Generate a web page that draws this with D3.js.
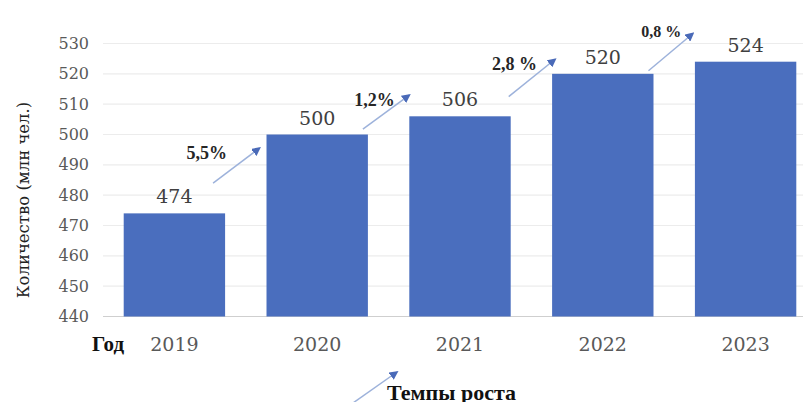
<!DOCTYPE html>
<html>
<head>
<meta charset="utf-8">
<script src="https://cdn.jsdelivr.net/npm/d3@7"></script>
<style>
  body { margin: 0; background: #fff; }
  svg { display: block; }
  svg text { font-family: "Liberation Serif", "Times New Roman", serif; }
  svg text.reg { font-family: "DejaVu Serif", serif; }
</style>
</head>
<body>
<svg id="chart"></svg>
<script>
// data
const years = ["2019", "2020", "2021", "2022", "2023"];
const values = [474, 500, 506, 520, 524];
const growth = ["5,5%", "1,2%", "2,8 %", "0,8 %"];
const yTicks = [440, 450, 460, 470, 480, 490, 500, 510, 520, 530];

// arrow ends in data units (between bar i and i+1)
const arrowFrom = [484, 501.8, 512.5, 521];
const arrowTo = [495.5, 513, 524.8, 533.3];
// growth label position (data units) and shift from gap centre (px)
const labelAt = [491.8, 509.3, 521.3, 532.2];
const labelShift = [-39, -14, -17, -13];

const width = 803, height = 402;
const margin = {left: 103, top: 43.5, bottom: 85.5, right: -14};

const svg = d3.select("#chart").attr("width", width).attr("height", height);

const x = d3.scaleBand()
    .domain(years)
    .range([margin.left, width - margin.right])
    .paddingInner(0.29)
    .paddingOuter(0.145);

const y = d3.scaleLinear()
    .domain([440, 530])
    .range([height - margin.bottom, margin.top]);

// grid
svg.append("g")
    .selectAll("line")
    .data(yTicks)
    .join("line")
    .attr("x1", margin.left)
    .attr("x2", width)
    .attr("y1", d => y(d))
    .attr("y2", d => y(d))
    .attr("stroke", d => d === 440 ? "#cfcfcf" : "#ececec")
    .attr("stroke-width", 1.2);

// y tick labels
svg.append("g")
    .selectAll("text")
    .data(yTicks)
    .join("text")
    .attr("class", "reg")
    .attr("x", 89)
    .attr("y", d => y(d))
    .attr("dy", "0.35em")
    .attr("text-anchor", "end")
    .attr("fill", "#595959")
    .style("font-size", "16px")
    .text(d => d);

// bars
svg.append("g")
    .selectAll("rect")
    .data(values)
    .join("rect")
    .attr("x", (d, i) => x(years[i]))
    .attr("y", d => y(d))
    .attr("width", x.bandwidth())
    .attr("height", d => y(440) - y(d))
    .attr("fill", "#4A6EBE");

// value labels
svg.append("g")
    .selectAll("text")
    .data(values)
    .join("text")
    .attr("class", "reg")
    .attr("x", (d, i) => x(years[i]) + x.bandwidth() / 2)
    .attr("y", d => y(d) - 10)
    .attr("text-anchor", "middle")
    .attr("fill", "#404040")
    .style("font-size", "19px")
    .text(d => d);

// x tick labels
svg.append("g")
    .selectAll("text")
    .data(years)
    .join("text")
    .attr("class", "reg")
    .attr("x", d => x(d) + x.bandwidth() / 2)
    .attr("y", 351)
    .attr("text-anchor", "middle")
    .attr("fill", "#595959")
    .style("font-size", "19px")
    .text(d => d);

svg.append("text")
    .attr("x", 92)
    .attr("y", 351)
    .attr("font-weight", "bold")
    .attr("fill", "#111")
    .style("font-size", "21px")
    .text("Год");

// y axis title
svg.append("text")
    .attr("class", "reg")
    .attr("transform", `translate(29,${(y(440) + y(530)) / 2 + 20}) rotate(-90)`)
    .attr("text-anchor", "middle")
    .attr("fill", "#222")
    .style("font-size", "16.5px")
    .text("Количество (млн чел.)");

// arrow marker
svg.append("defs").append("marker")
    .attr("id", "head")
    .attr("viewBox", "0 0 10 10")
    .attr("refX", 8)
    .attr("refY", 5)
    .attr("markerWidth", 6)
    .attr("markerHeight", 6)
    .attr("markerUnits", "strokeWidth")
    .attr("orient", "auto")
    .append("path")
    .attr("d", "M0,0 L10,5 L0,10 z")
    .attr("fill", "#4A6AB8");

const gaps = growth.map((g, i) => ({
    x0: x(years[i]) + x.bandwidth(),
    x1: x(years[i + 1]),
    g: g,
    i: i
}));

const ann = svg.append("g");

ann.selectAll("line")
    .data(gaps)
    .join("line")
    .attr("x1", d => d.x0 - [12, 5, 2, 5][d.i])
    .attr("y1", d => y(arrowFrom[d.i]))
    .attr("x2", d => d.x1 - [7, 0, -3, 2][d.i])
    .attr("y2", d => y(arrowTo[d.i]))
    .attr("stroke", "#9DB2DB")
    .attr("stroke-width", 1.5)
    .attr("marker-end", "url(#head)");

ann.selectAll("text")
    .data(gaps)
    .join("text")
    .attr("x", d => (d.x0 + d.x1) / 2 + labelShift[d.i])
    .attr("y", d => y(labelAt[d.i]))
    .attr("text-anchor", "middle")
    .attr("font-weight", "bold")
    .attr("fill", "#262626")
    .style("font-size", d => d.i === 3 ? "16px" : "18px")
    .text(d => d.g);

// legend
svg.append("line")
    .attr("x1", 353)
    .attr("y1", 403)
    .attr("x2", 397)
    .attr("y2", 372)
    .attr("stroke", "#9DB2DB")
    .attr("stroke-width", 1.5)
    .attr("marker-end", "url(#head)");

svg.append("text")
    .attr("x", 387)
    .attr("y", 400)
    .attr("font-weight", "bold")
    .attr("fill", "#111")
    .style("font-size", "22px")
    .text("Темпы роста");
</script>
</body>
</html>
